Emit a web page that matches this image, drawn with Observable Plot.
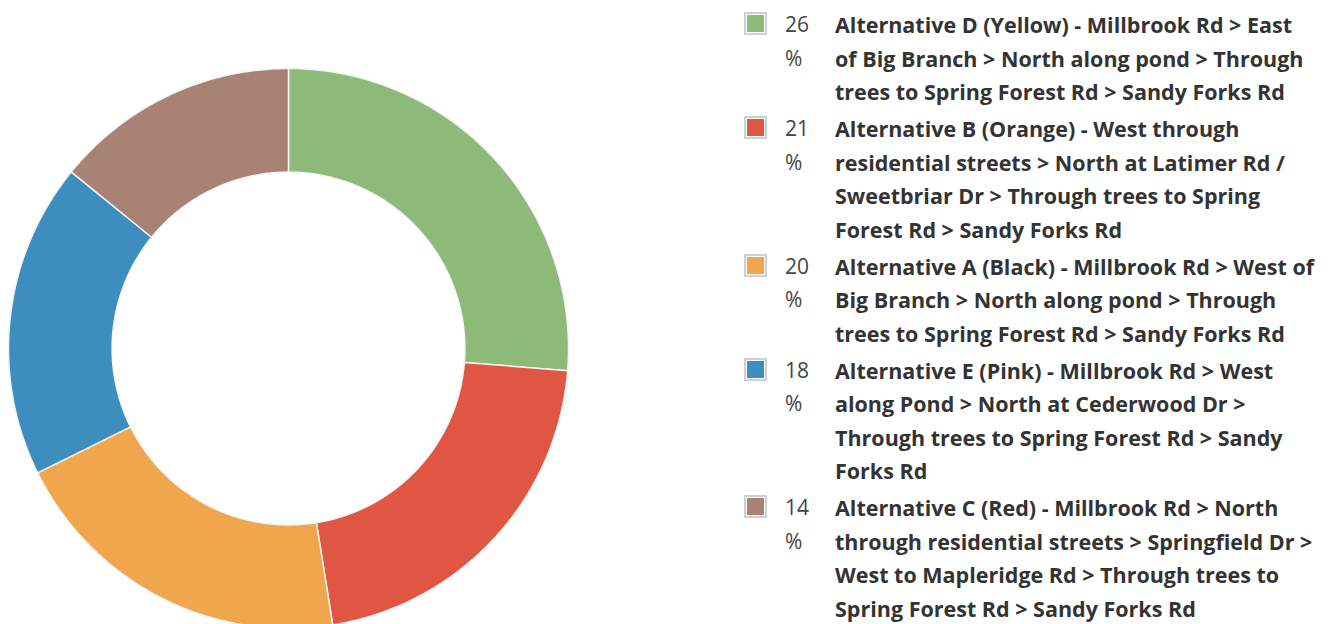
<!DOCTYPE html>
<html>
<head>
<meta charset="utf-8">
<script src="https://cdn.jsdelivr.net/npm/d3@7"></script>
<script src="https://cdn.jsdelivr.net/npm/@observablehq/plot@0.6"></script>
<style>
  html, body { margin: 0; padding: 0; width: 1336px; height: 624px; overflow: hidden; background: #fff; }
  #wrap { position: relative; width: 1336px; height: 624px; }
  #chart { position: absolute; left: 0; top: 0; }
  #legend { position: absolute; left: 744px; top: 8px; font-family: "Open Sans", sans-serif; color: #333; }
  .item { display: flex; align-items: flex-start; margin-bottom: 3.5px; }
  .sw { width: 17px; height: 17px; border: 2px solid #cfcfcf; padding: 1px; background: #fff; margin-top: 4px; flex: none; }
  .sw div { width: 17px; height: 17px; }
  .num { width: 30px; margin-left: 18px; font-size: 21px; line-height: 33.5px; color: #444; flex: none; word-wrap: break-word; }
  .lab { width: 484px; margin-left: 20px; font-size: 21.5px; line-height: 33.5px; font-weight: 700; color: #333; }
</style>
</head>
<body>
<div id="wrap"><div id="chart"></div><div id="legend"></div></div>
<script>
const categories = [
  "Alternative D (Yellow) - Millbrook Rd > East of Big Branch > North along pond > Through trees to Spring Forest Rd > Sandy Forks Rd",
  "Alternative B (Orange) - West through residential streets > North at Latimer Rd / Sweetbriar Dr > Through trees to Spring Forest Rd > Sandy Forks Rd",
  "Alternative A (Black) - Millbrook Rd > West of Big Branch > North along pond > Through trees to Spring Forest Rd > Sandy Forks Rd",
  "Alternative E (Pink) - Millbrook Rd > West along Pond > North at Cederwood Dr > Through trees to Spring Forest Rd > Sandy Forks Rd",
  "Alternative C (Red) - Millbrook Rd > North through residential streets > Springfield Dr > West to Mapleridge Rd > Through trees to Spring Forest Rd > Sandy Forks Rd"
];
const values = [26, 21, 20, 18, 14];
const colors = ["#8dba78", "#e15642", "#f0a64c", "#3d8dbf", "#a88275"];
const innerRatio = 0.63;

// Build slice polygons from the data (angles clockwise from top; screen y grows downward)
const total = d3.sum(values);
let acc = 0;
const features = categories.map((c, i) => {
  const a0 = acc / total * 2 * Math.PI;
  acc += values[i];
  const a1 = acc / total * 2 * Math.PI;
  const n = Math.max(8, Math.ceil((a1 - a0) / 0.01));
  const ring = [];
  for (let k = 0; k <= n; k++) { const a = a0 + (a1 - a0) * k / n; ring.push([Math.sin(a), -Math.cos(a)]); }
  for (let k = n; k >= 0; k--) { const a = a0 + (a1 - a0) * k / n; ring.push([innerRatio * Math.sin(a), -innerRatio * Math.cos(a)]); }
  ring.push(ring[0]);
  return { type: "Feature", properties: { name: c, value: values[i] }, geometry: { type: "Polygon", coordinates: [ring] } };
});

const plot = Plot.plot({
  width: 576,
  height: 696,
  marginLeft: 8, marginRight: 8, marginTop: 68, marginBottom: 68,
  projection: { type: "identity", domain: { type: "MultiPoint", coordinates: [[-1, -1], [1, 1]] } },
  color: { domain: categories, range: colors },
  marks: [
    Plot.geo(features, { fill: d => d.properties.name, stroke: "#f4f4f4", strokeWidth: 1.5 })
  ]
});
document.getElementById("chart").appendChild(plot);

const legend = document.getElementById("legend");
categories.forEach((c, i) => {
  const item = document.createElement("div");
  item.className = "item";
  const sw = document.createElement("div");
  sw.className = "sw";
  const inner = document.createElement("div");
  inner.style.background = colors[i];
  sw.appendChild(inner);
  const num = document.createElement("div");
  num.className = "num";
  num.innerHTML = values[i] + "<br>%";
  const lab = document.createElement("div");
  lab.className = "lab";
  lab.textContent = c;
  item.append(sw, num, lab);
  legend.appendChild(item);
});
</script>
</body>
</html>
